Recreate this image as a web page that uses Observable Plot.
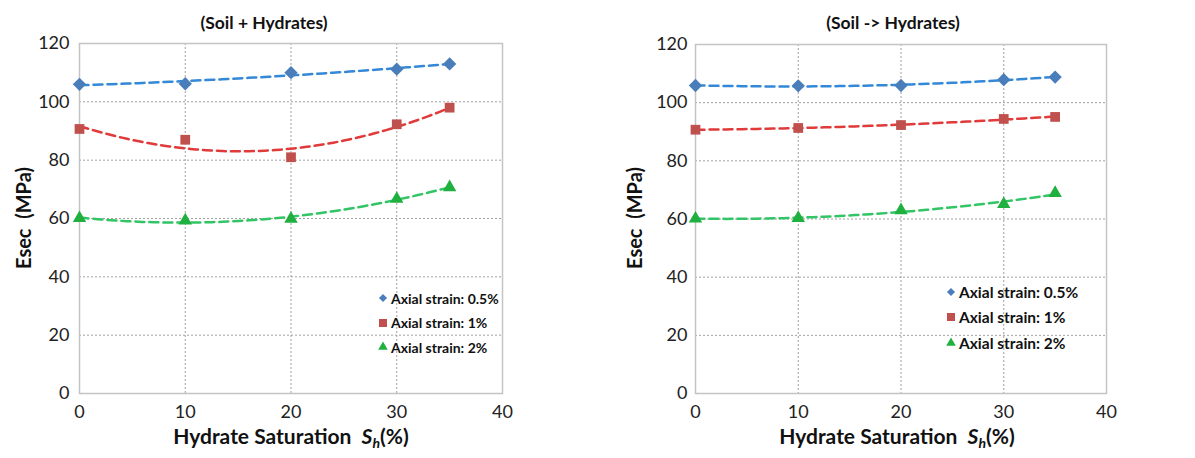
<!DOCTYPE html>
<html><head><meta charset="utf-8">
<script src="https://cdn.jsdelivr.net/npm/d3@7"></script>
<script src="https://cdn.jsdelivr.net/npm/@observablehq/plot@0.6"></script>
<style>
body{margin:0;background:#fff;font-family:Lato,'Open Sans',sans-serif;}
#wrap{position:relative;width:1195px;height:458px;overflow:hidden;background:#fff}
.panel{position:absolute;top:0}
.txt{position:absolute;font-weight:bold;white-space:nowrap;color:#111;transform:translate(-50%,-50%)}
.title{font-size:17.5px}
.xlab{font-size:21px}
.ylab{font-size:20px;transform:translate(-50%,-50%) rotate(-90deg)}
.xlab sub{font-size:14px;font-style:italic;vertical-align:-4px}
.legend{position:absolute;font-weight:bold;color:#111}
.legend div{display:flex;align-items:center;white-space:nowrap}
.legend svg{margin-right:2px}
</style>
</head><body>
<div id="wrap"></div>
<script>
// ---- data ----
const saturation = [0, 10, 20, 30, 35];
const strainLabels = ["Axial strain: 0.5%", "Axial strain: 1%", "Axial strain: 2%"];
const mixedStrain05 = [106.0, 106.2, 110.0, 111.2, 113.0];
const mixedStrain1  = [90.7, 87.0, 81.0, 92.3, 98.0];
const mixedStrain2  = [60.1, 59.3, 59.9, 66.7, 70.7];
const seqStrain05   = [105.9, 105.8, 105.9, 107.9, 108.8];
const seqStrain1    = [90.7, 91.3, 92.3, 94.4, 95.1];
const seqStrain2    = [60.1, 60.3, 63.0, 65.1, 68.9];
const xTicks = [0, 10, 20, 30, 40];
const yTicks = [0, 20, 40, 60, 80, 100, 120];
const xGrid = [10, 20, 30];
const yGrid = [20, 40, 60, 80, 100];
const panelTitles = ["(Soil + Hydrates)", "(Soil -> Hydrates)"];

// ---- styles ----
const markerColors = ["#4a7ebb", "#c0504d", "#1fb040"];
const lineColors = ["#3388d8", "#e03a3a", "#33c466"];
const symbols = ["diamond2", "square", "triangle"];
const font = "Lato, 'Open Sans', sans-serif";

// quadratic least-squares trendline (as Excel polynomial order 2)
function quadFit(xs, ys) {
  let n = xs.length, s1=0,s2=0,s3=0,s4=0,t0=0,t1=0,t2=0;
  for (let i=0;i<n;i++){const x=xs[i],y=ys[i];s1+=x;s2+=x*x;s3+=x*x*x;s4+=x*x*x*x;t0+=y;t1+=x*y;t2+=x*x*y;}
  const M=[[n,s1,s2],[s1,s2,s3],[s2,s3,s4]], v=[t0,t1,t2];
  const det=m=>m[0][0]*(m[1][1]*m[2][2]-m[1][2]*m[2][1])-m[0][1]*(m[1][0]*m[2][2]-m[1][2]*m[2][0])+m[0][2]*(m[1][0]*m[2][1]-m[1][1]*m[2][0]);
  const D=det(M);
  const coef=[0,1,2].map(k=>det(M.map((row,i)=>row.map((c,j)=>j===k?v[i]:c)))/D);
  return x=>coef[0]+coef[1]*x+coef[2]*x*x;
}

function buildRows(seriesList) {
  const pts = [], trend = [];
  seriesList.forEach((vals, s) => {
    saturation.forEach((x, i) => pts.push({x, y: vals[i], s}));
    const f = quadFit(saturation, vals);
    d3.range(0, 35.001, 0.5).forEach(x => trend.push({x, y: f(x), s}));
  });
  return {pts, trend};
}

function makePanel(seriesList, opt) {
  const {pts, trend} = buildRows(seriesList);
  const marks = [
    Plot.ruleX(xGrid, {stroke: "#a0a0a0", strokeDasharray: "2,2", strokeWidth: 1}),
    Plot.ruleY(yGrid, {stroke: "#a0a0a0", strokeDasharray: "2,2", strokeWidth: 1}),
    Plot.frame({stroke: "#c4c4c4", strokeWidth: 1.5})
  ];
  [0,1,2].forEach(s => {
    marks.push(Plot.line(trend.filter(d => d.s === s), {x: "x", y: "y", stroke: lineColors[s], strokeWidth: 2.5, strokeDasharray: "9,5"}));
  });
  [0,1,2].forEach(s => {
    marks.push(Plot.dot(pts.filter(d => d.s === s), {x: "x", y: "y", symbol: () => symbols[s], fill: markerColors[s], stroke: "none", r: s === 0 ? 6 : (s === 1 ? 5.5 : 5)}));
  });
  return Plot.plot({
    width: opt.width, height: 458,
    marginLeft: opt.ml, marginRight: opt.mr, marginTop: opt.mt, marginBottom: 65,
    x: {domain: [0, 40], ticks: xTicks, tickSize: 0, tickPadding: 12, label: null, tickFormat: d => d},
    y: {domain: [0, 120], ticks: yTicks, tickSize: 0, tickPadding: opt.tp, label: null, tickFormat: d => d},
    symbol: {type: "identity"},
    style: {fontFamily: font, fontSize: "18px", color: "#222", background: "transparent", overflow: "visible"},
    marks
  });
}

const wrap = document.getElementById("wrap");
function place(el, left) { el.classList.add("panel"); el.style.left = left + "px"; wrap.appendChild(el); }
place(makePanel([mixedStrain05, mixedStrain1, mixedStrain2], {width: 597, ml: 79, mr: 95, mt: 43, tp: 10}), 0);
place(makePanel([seqStrain05, seqStrain1, seqStrain2], {width: 595, ml: 95, mr: 89, mt: 44, tp: 8}), 600);

function addText(cls, html, x, y) {
  const d = document.createElement("div");
  d.className = "txt " + cls; d.innerHTML = html;
  d.style.left = x + "px"; d.style.top = y + "px";
  wrap.appendChild(d);
}
addText("title", panelTitles[0], 264, 22);
addText("title", panelTitles[1], 893, 22);
const xl = "Hydrate Saturation&nbsp;&nbsp;<i>S</i><sub>h</sub>(%)";
addText("xlab", xl, 291, 437);
addText("xlab", xl, 897, 437);
addText("ylab", "Esec&nbsp;&nbsp;(MPa)", 23, 218);
addText("ylab", "Esec&nbsp;&nbsp;(MPa)", 634, 218);

function symbolPath(name, size) {
  const map = {diamond2: d3.symbolDiamond2, square: d3.symbolSquare, triangle: d3.symbolTriangle};
  return d3.symbol(map[name], size)();
}
function addLegend(x, y, rowH, fs) {
  const lg = document.createElement("div");
  lg.className = "legend";
  lg.style.left = x + "px"; lg.style.top = y + "px"; lg.style.fontSize = fs + "px";
  const sizes = [42, 64, 40];
  strainLabels.forEach((lab, s) => {
    const row = document.createElement("div");
    row.style.height = rowH + "px";
    row.innerHTML = `<svg width="12" height="12" viewBox="-6 -6 12 12"><path d="${symbolPath(symbols[s], sizes[s])}" fill="${markerColors[s]}"/></svg><span>${lab}</span>`;
    lg.appendChild(row);
  });
  wrap.appendChild(lg);
}
addLegend(377, 286, 24.5, 14);
addLegend(945, 279, 25.5, 15.5);
</script>
</body></html>
